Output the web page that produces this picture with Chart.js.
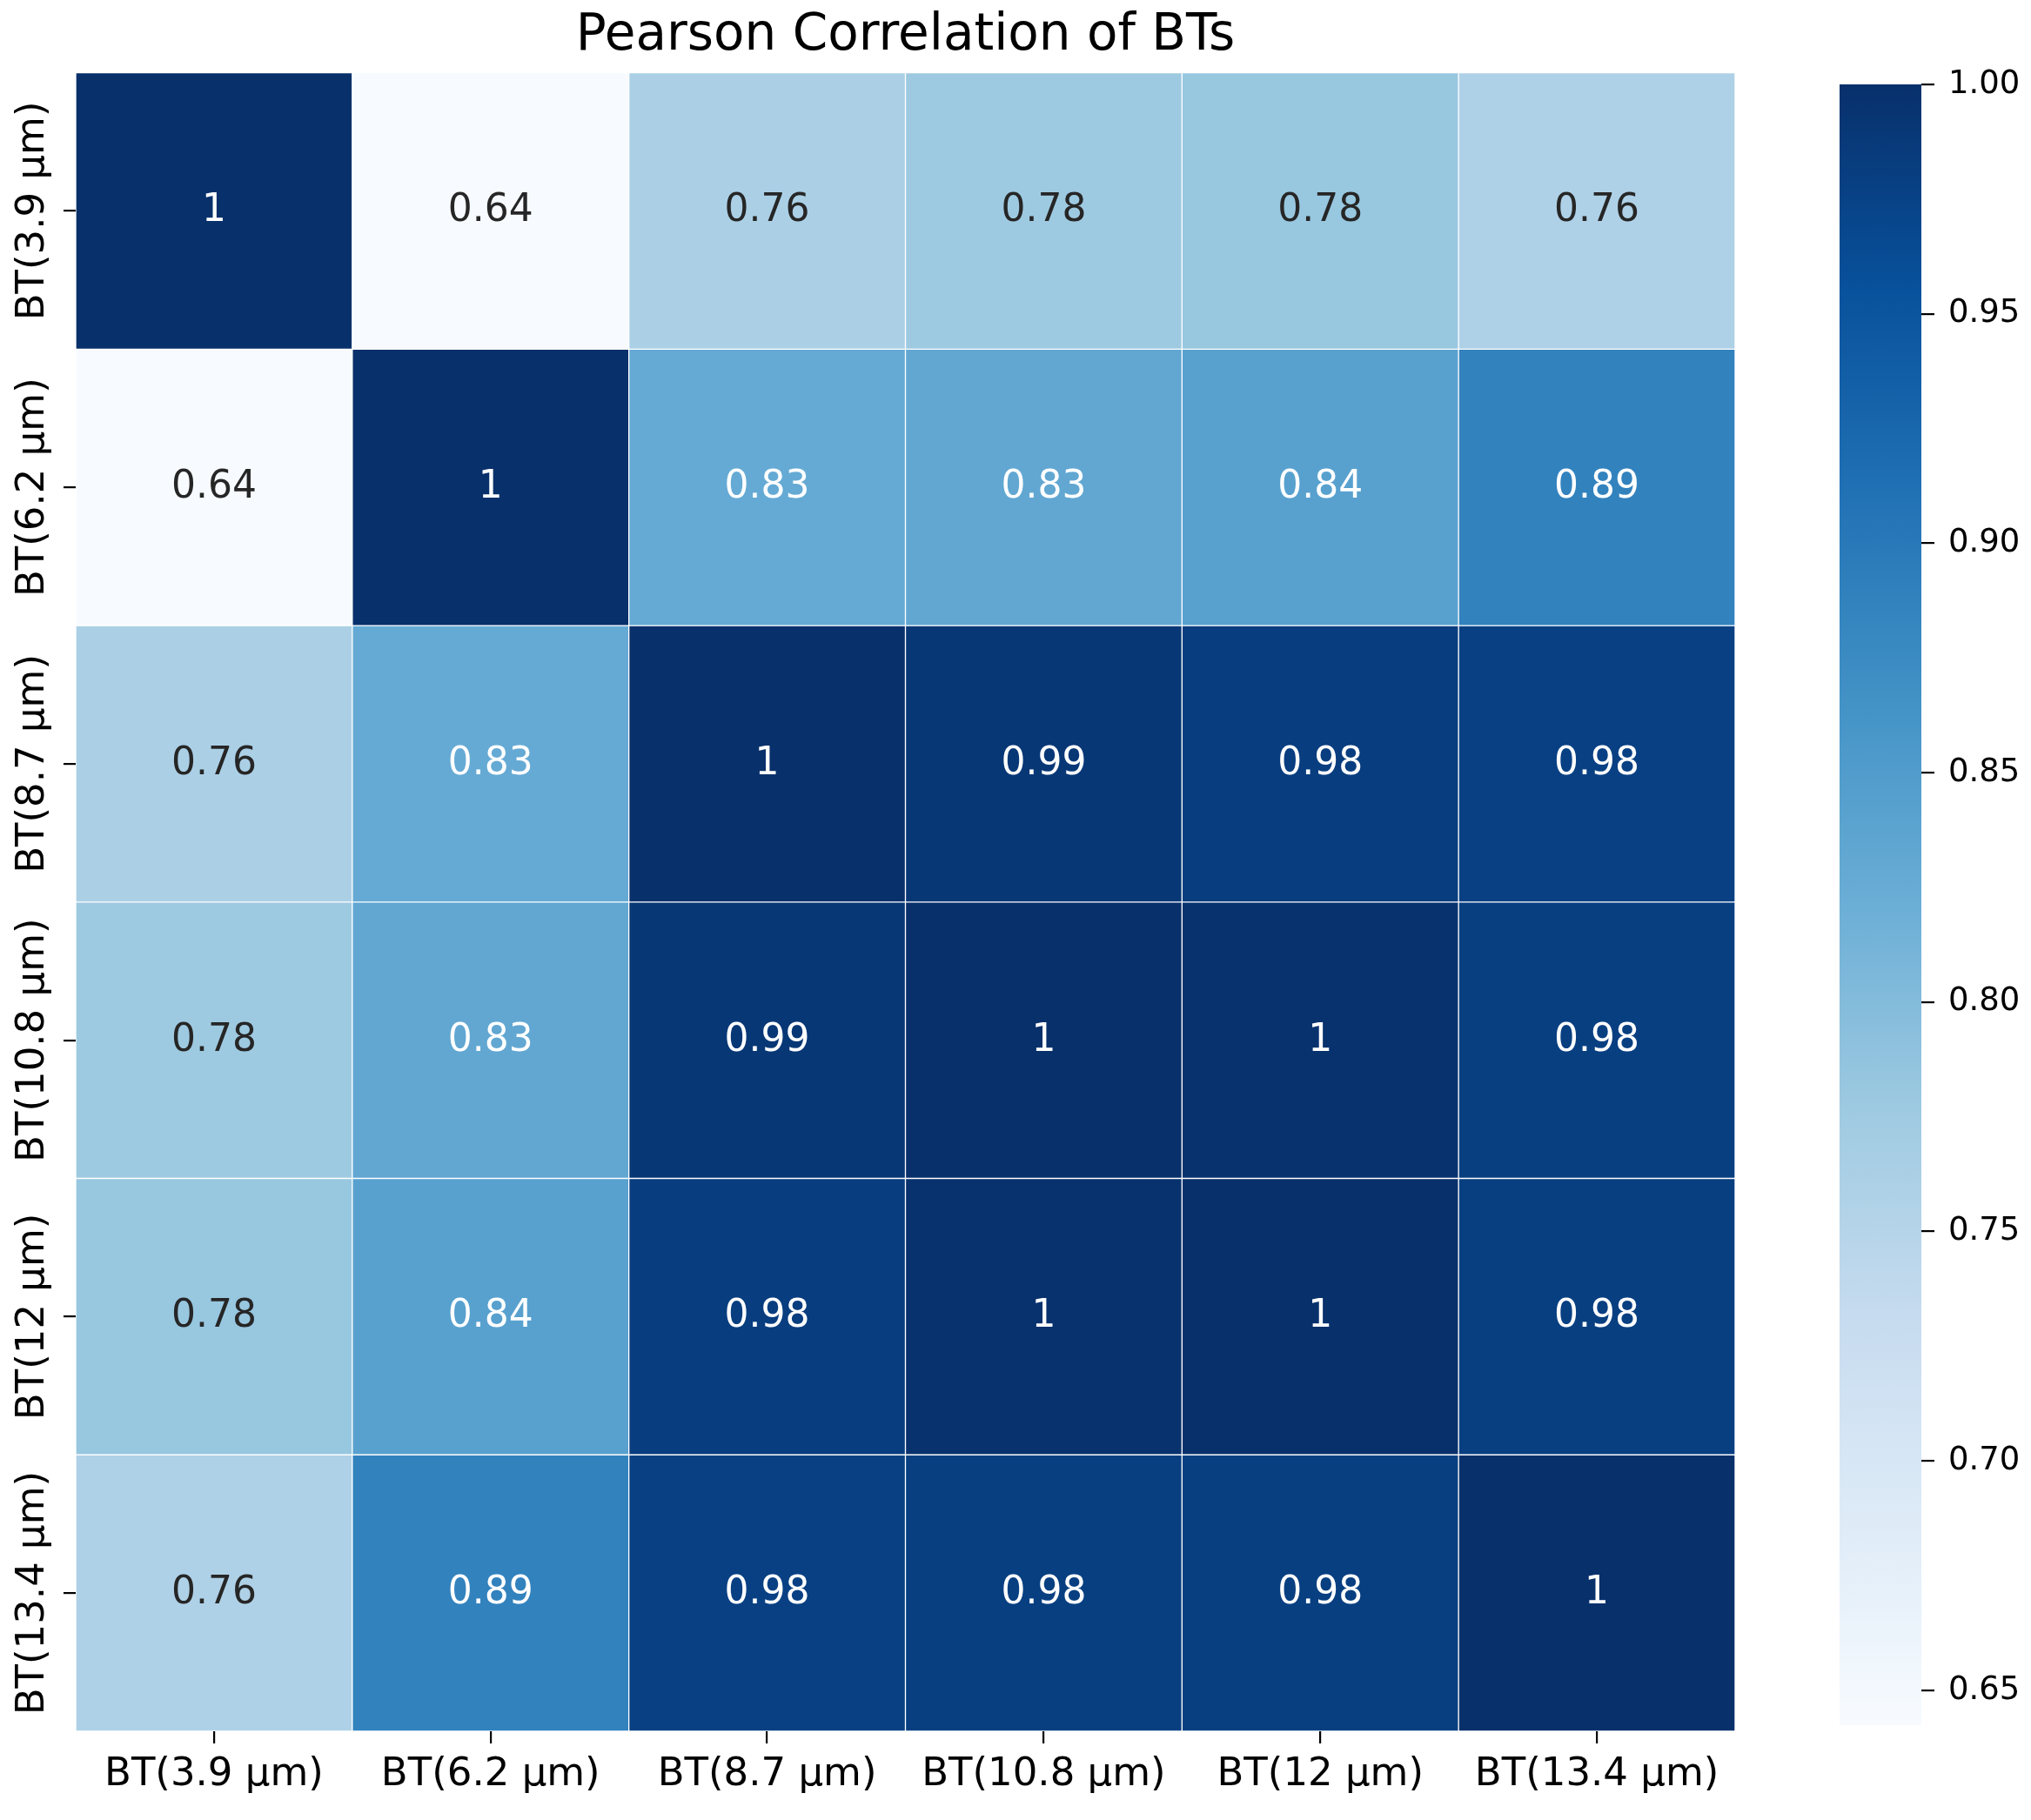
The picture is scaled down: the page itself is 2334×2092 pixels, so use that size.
<!DOCTYPE html>
<html>
<head>
<meta charset="utf-8">
<script src="https://cdn.jsdelivr.net/npm/chart.js@4.4.0/dist/chart.umd.min.js"></script>
<style>
  html, body { margin: 0; padding: 0; background: #fff; }
  #wrap { position: relative; width: 2334px; height: 2092px; }
  #heat { position: absolute; left: 0; top: 0; }
  #cbar { position: absolute; left: 2080px; top: 0; }
</style>
</head>
<body>
<div id="wrap">
  <canvas id="heat" width="2334" height="2092"></canvas>
  <canvas id="cbar" width="254" height="2092"></canvas>
</div>
<script>
// ===================
// data
// ===================
const bands = ["BT(3.9 μm)", "BT(6.2 μm)", "BT(8.7 μm)", "BT(10.8 μm)", "BT(12 μm)", "BT(13.4 μm)"];
const corrBT39 = [1.0, 0.6424, 0.762, 0.776, 0.782, 0.758];
const corrBT62 = [0.6424, 1.0, 0.828, 0.832, 0.842, 0.888];
const corrBT87 = [0.762, 0.828, 1.0, 0.99, 0.982, 0.978];
const corrBT108 = [0.776, 0.832, 0.99, 1.0, 0.997, 0.98];
const corrBT12 = [0.782, 0.842, 0.982, 0.997, 1.0, 0.98];
const corrBT134 = [0.758, 0.888, 0.978, 0.98, 0.98, 1.0];
const vmin = 0.6424;
const vmax = 1.0;
const cbarTicks = [0.65, 0.70, 0.75, 0.80, 0.85, 0.90, 0.95, 1.00];

const rows = [corrBT39, corrBT62, corrBT87, corrBT108, corrBT12, corrBT134];

// Blues colormap (ColorBrewer)
const BLUES = ["#f7fbff", "#deebf7", "#c6dbef", "#9ecae1", "#6baed6", "#4292c6", "#2171b5", "#08519c", "#08306b"];
function hexRgb(h) { return [1, 3, 5].map(i => parseInt(h.substr(i, 2), 16)); }
function blues(v) {
  let t = (v - vmin) / (vmax - vmin);
  t = Math.min(1, Math.max(0, t));
  const p = t * 8;
  const i = Math.min(7, Math.floor(p));
  const f = p - i;
  const a = hexRgb(BLUES[i]), b = hexRgb(BLUES[i + 1]);
  return a.map((x, k) => Math.round(x + (b[k] - x) * f));
}
function lum(rgb) {
  const c = rgb.map(x => { x /= 255; return x <= 0.03928 ? x / 12.92 : Math.pow((x + 0.055) / 1.055, 2.4); });
  return 0.2126 * c[0] + 0.7152 * c[1] + 0.0722 * c[2];
}
const rgbStr = c => "rgb(" + c.join(",") + ")";
const fmt = v => String(parseFloat(v.toPrecision(2)));

const FONT = '"DejaVu Sans", sans-serif';
Chart.defaults.font.family = FONT;
Chart.defaults.color = "#000";

// annotations in cells
const cellText = {
  id: "cellText",
  afterDatasetsDraw(chart) {
    const ctx = chart.ctx;
    ctx.save();
    ctx.font = "44px " + FONT;
    ctx.textAlign = "center";
    ctx.textBaseline = "alphabetic";
    chart.data.datasets.forEach((ds, r) => {
      chart.getDatasetMeta(r).data.forEach((el, c) => {
        const v = ds.corr[c];
        ctx.fillStyle = lum(blues(v)) > 0.408 ? "#262626" : "#ffffff";
        ctx.fillText(fmt(v), el.x, (el.y + el.base) / 2 + 12);
      });
    });
    ctx.restore();
  }
};

// rotated row labels on the left
const rowLabels = {
  id: "rowLabels",
  afterDraw(chart) {
    const ctx = chart.ctx;
    const ys = chart.scales.y;
    ctx.save();
    ctx.font = "45px " + FONT;
    ctx.fillStyle = "#000";
    ctx.textAlign = "center";
    ctx.textBaseline = "alphabetic";
    bands.forEach((b, r) => {
      ctx.save();
      ctx.translate(50, ys.getPixelForValue(r + 0.5));
      ctx.rotate(-Math.PI / 2);
      ctx.fillText(b, 0, 0);
      ctx.restore();
    });
    ctx.restore();
  }
};

const heatChart = new Chart(document.getElementById("heat"), {
  type: "bar",
  data: {
    labels: bands,
    datasets: rows.map((vals, r) => ({
      label: bands[r],
      data: vals.map(() => 1),
      corr: vals,
      backgroundColor: vals.map(v => rgbStr(blues(v))),
      borderColor: "#ffffff",
      borderWidth: 1,
      borderSkipped: false,
      barPercentage: 1,
      categoryPercentage: 1,
    })),
  },
  options: {
    responsive: false,
    devicePixelRatio: 1,
    animation: false,
    layout: { padding: { left: 0, right: 340, top: 0, bottom: 16 } },
    plugins: {
      legend: { display: false },
      tooltip: { enabled: false },
      title: {
        display: true,
        text: "Pearson Correlation of BTs",
        fullSize: false,
        color: "#000",
        font: { size: 58, weight: "normal" },
        padding: { top: 7, bottom: 7 },
      },
    },
    scales: {
      x: {
        stacked: true,
        grid: { offset: false, drawOnChartArea: false, tickLength: 14, color: "#000", lineWidth: 2.2 },
        border: { display: false },
        ticks: { font: { size: 45 }, color: "#000", padding: 9, autoSkip: false, maxRotation: 0, minRotation: 0 },
      },
      y: {
        stacked: true,
        reverse: true,
        min: 0,
        max: 6,
        afterBuildTicks: s => { s.ticks = bands.map((b, i) => ({ value: i + 0.5 })); },
        afterFit: s => { s.width = 87; },
        grid: { drawOnChartArea: false, tickLength: 14, color: "#000", lineWidth: 2.2 },
        border: { display: false },
        ticks: { display: false },
      },
    },
  },
  plugins: [cellText, rowLabels],
});

// ===================
// colorbar
// ===================
const cbarChart = new Chart(document.getElementById("cbar"), {
  type: "bar",
  data: {
    labels: [""],
    datasets: [{
      data: [[vmin, vmax]],
      backgroundColor: (context) => {
        const ca = context.chart.chartArea;
        if (!ca) return BLUES[4];
        const g = context.chart.ctx.createLinearGradient(0, ca.bottom, 0, ca.top);
        BLUES.forEach((c, i) => g.addColorStop(i / 8, c));
        return g;
      },
      borderWidth: 0,
      barPercentage: 1,
      categoryPercentage: 1,
    }],
  },
  options: {
    responsive: false,
    devicePixelRatio: 1,
    animation: false,
    layout: { padding: { left: 34, top: 97, bottom: 109, right: 0 } },
    plugins: { legend: { display: false }, tooltip: { enabled: false } },
    scales: {
      x: { display: false },
      y: {
        position: "right",
        min: vmin,
        max: vmax,
        afterBuildTicks: s => { s.ticks = cbarTicks.map(v => ({ value: v })); },
        afterFit: s => { s.width = 126; },
        grid: { drawOnChartArea: false, tickLength: 15, color: "#000", lineWidth: 2.2 },
        border: { display: false },
        ticks: { font: { size: 37 }, color: "#000", padding: 16, callback: v => v.toFixed(2) },
      },
    },
  },
});
</script>
</body>
</html>
